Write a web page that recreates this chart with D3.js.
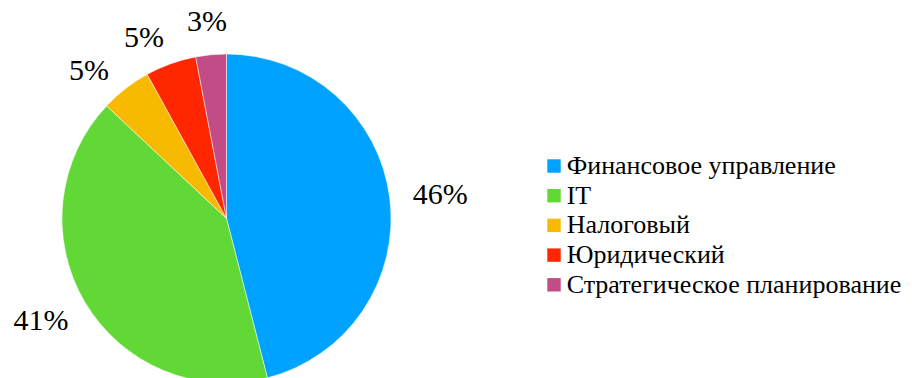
<!DOCTYPE html>
<html>
<head>
<meta charset="utf-8">
<script src="https://cdn.jsdelivr.net/npm/d3@7"></script>
<style>
  body { margin: 0; background: #fff; }
  svg text { font-family: 'Liberation Serif', 'Times New Roman', Tinos, FreeSerif, serif; fill: #000; }
</style>
</head>
<body>
<script>
var categories = ["Финансовое управление", "IT", "Налоговый", "Юридический", "Стратегическое планирование"];
var values = [46, 41, 5, 5, 3];
var colors = ["#00a2ff", "#61d836", "#f8ba00", "#ff2600", "#c24c86"];

var width = 912, height = 378;
var cx = 226.5, cy = 218.5, radius = 164.5, labelGap = 188, minLabelAngle = 18 * Math.PI / 180;

var svg = d3.select("body").append("svg")
    .attr("width", width)
    .attr("height", height)
    .attr("font-family", "Liberation Serif");

var data = categories.map(function(c, i) {
  return { name: c, value: values[i], color: colors[i] };
});

var pie = d3.pie()
    .sort(null)
    .value(function(d) { return d.value; });

var arc = d3.arc().innerRadius(0).outerRadius(radius);

var arcs = pie(data);

// label angles: slice middle, small neighbours pushed apart (backwards from the last one)
arcs.forEach(function(d) { d.labelAngle = (d.startAngle + d.endAngle) / 2; });
for (var i = arcs.length - 2; i >= 0; i--) {
  if (arcs[i + 1].labelAngle - arcs[i].labelAngle < minLabelAngle) {
    arcs[i].labelAngle = arcs[i + 1].labelAngle - minLabelAngle;
  }
}

var g = svg.append("g")
    .attr("transform", "translate(" + cx + "," + cy + ")");

var slices = g.selectAll(".slice")
    .data(arcs)
    .enter().append("g")
    .attr("class", "slice");

slices.append("path")
    .attr("d", arc)
    .attr("fill", function(d) { return d.data.color; })
    .attr("stroke", "#fff")
    .attr("stroke-width", 0.5);

// percent labels: just outside the pie, pushed out by half their box
slices.append("text")
    .attr("text-anchor", "middle")
    .attr("dy", "0.35em")
    .style("font-size", "30px")
    .text(function(d) { return d.data.value + "%"; })
    .each(function(d) {
      var w = this.getBBox().width;
      var dx = Math.sin(d.labelAngle), dy = -Math.cos(d.labelAngle);
      var x = dx * labelGap + dx * w / 2;
      var y = dy * labelGap + dy * 21 / 2;
      d3.select(this).attr("transform", "translate(" + x + "," + y + ")");
    });

// legend
var legendX = 547.3, legendY = 159.3, rowH = 29.7, box = 13.4;

var legend = svg.selectAll(".legend")
    .data(data)
    .enter().append("g")
    .attr("class", "legend")
    .attr("transform", function(d, i) {
      return "translate(" + legendX + "," + (legendY + i * rowH) + ")";
    });

legend.append("rect")
    .attr("width", box)
    .attr("height", box)
    .attr("fill", function(d) { return d.color; });

legend.append("text")
    .attr("x", 19.4)
    .attr("y", box + 1.3)
    .style("font-size", "26px")
    .text(function(d) { return d.name; });
</script>
</body>
</html>
